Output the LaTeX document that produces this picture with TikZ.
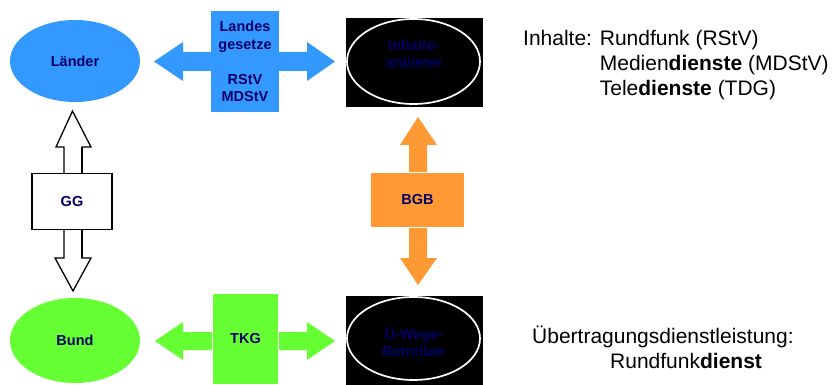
\documentclass[tikz,border=0pt]{standalone}
\usepackage{fontspec}
\setmainfont{Liberation Sans}
\usetikzlibrary{shapes.geometric}

\definecolor{landblue}{RGB}{51,153,255}
\definecolor{bundgreen}{RGB}{102,255,51}
\definecolor{bgborange}{RGB}{255,153,51}
\definecolor{lawnavy}{RGB}{0,0,102}

\tikzset{
      law/.style={font=\fontsize{14.5}{17.5}\selectfont\bfseries,
            text=lawnavy,align=center,inner sep=0},
      player/.style={ellipse,law},
      darkbox/.style={fill=black,inner sep=0,minimum width=137,minimum height=89},
      ring/.style={ellipse,draw=white,line width=1.7,inner sep=0,
            minimum width=133},
      lawbox/.style={rectangle,law},
      note/.style={font=\fontsize{21}{25}\selectfont,inner sep=0,anchor=base west}
}

\begin{document}
\begin{tikzpicture}[x=1pt,y=-1pt]
      \useasboundingbox (0,0) rectangle (835,385);

      % parties
      \node[player,fill=landblue,minimum width=130,minimum height=82]
            (laender) at (75,61) {L\"ander};
      \node[player,fill=bundgreen,minimum width=130,minimum height=85]
            (bund) at (75,340.5) {Bund};

      \node[darkbox] (anbieter) at (414.5,62.5) {};
      \node[ring,minimum height=85] (anbieterring) at (413.5,61.5) {};
      \node[law] (anbietertext) at (414,54) {Inhalte-\\anbieter};

      \node[darkbox] (betreiber) at (414.5,340.5) {};
      \node[ring,minimum height=83] (betreiberring) at (413.5,338.5) {};
      \node[law] (betreibertext) at (414,342) {\"U-Wege-\\Betreiber};

      % block arrows
      \fill[landblue]
            (154,61.5)
            -- (183,42) -- (183,52)
            -- (307,52) -- (307,42)
            -- (335,61.5)
            -- (307,81) -- (307,71)
            -- (183,71) -- (183,81)
            -- cycle;
      \fill[bundgreen]
            (155,341)
            -- (183,322) -- (183,332)
            -- (307,332) -- (307,322)
            -- (335,341)
            -- (307,360) -- (307,350)
            -- (183,350) -- (183,360)
            -- cycle;
      \draw[fill=white,line width=1.3,line join=miter]
            (72.5,111)
            -- (91,147) -- (82,147)
            -- (82,258) -- (91,258)
            -- (73,291)
            -- (55,258) -- (64,258)
            -- (64,147) -- (56,147)
            -- cycle;
      \draw[line width=2.4] (82,147) -- (82,258);
      \fill[bgborange]
            (418,117)
            -- (437,145) -- (427,145)
            -- (427,258) -- (437,258)
            -- (418,285)
            -- (400,258) -- (409,258)
            -- (409,145) -- (400,145)
            -- cycle;

      % laws
      \node[lawbox,fill=landblue,minimum width=68,minimum height=101]
            (landesrecht) at (245,61.5) {Landes\\gesetze\\[17.5pt]RStV\\MDStV};
      \node[lawbox,fill=bundgreen,draw=white,line width=1.5,
            minimum width=66,minimum height=92]
            (tkg) at (245.5,339) {TKG};
      \node[lawbox,fill=white,draw=black,line width=1.3,
            minimum width=80,minimum height=56]
            (gg) at (72,201.5) {GG};
      \node[lawbox,fill=bgborange,draw=white,line width=1,
            minimum width=94,minimum height=55]
            (bgb) at (417.5,200) {BGB};

      % notes
      \node[note] (inhalte) at (523,46)
            {\begin{tabular}[t]{@{}l@{ }l@{}}
            Inhalte: & Rundfunk (RStV)\\
                     & Medien\textbf{dienste} (MDStV)\\
                     & Tele\textbf{dienste} (TDG)
            \end{tabular}};
      \node[note] (uebertragung) at (532,343)
            {\begin{tabular}[t]{@{}l@{}}
            \"Ubertragungsdienstleistung:\\
            \hspace{78pt}Rundfunk\textbf{dienst}
            \end{tabular}};
\end{tikzpicture}
\end{document}
